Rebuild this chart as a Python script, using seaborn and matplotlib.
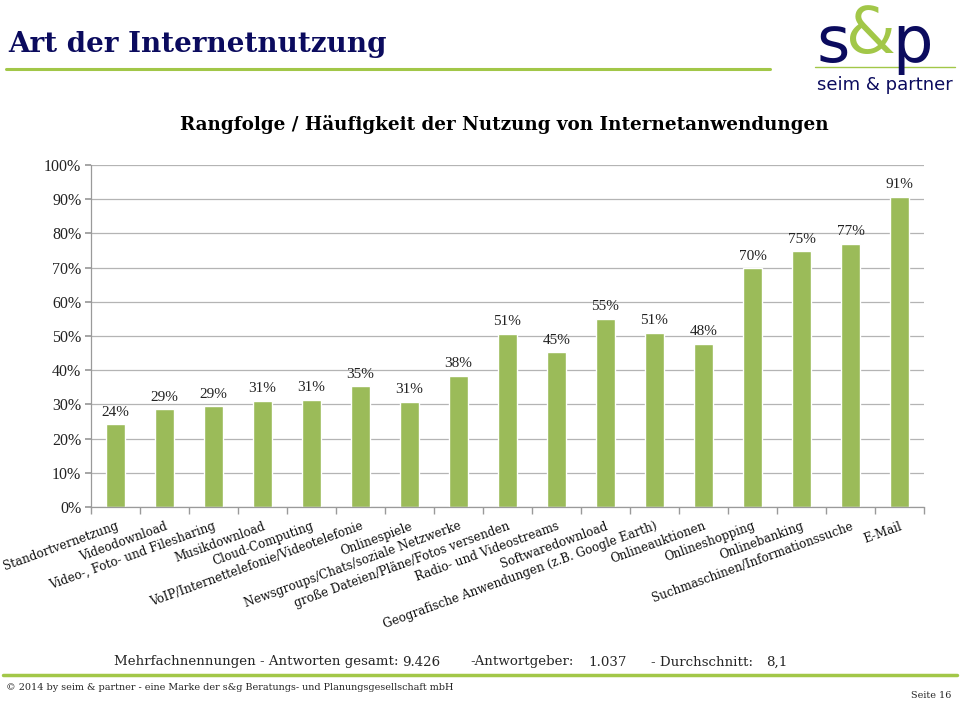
import matplotlib
matplotlib.use("Agg")
import matplotlib.pyplot as plt
import seaborn as sns
import pandas as pd
from matplotlib.lines import Line2D

categories = [
    "Standortvernetzung", "Videodownload", "Video-, Foto- und Filesharing",
    "Musikdownload", "Cloud-Computing", "VoIP/Internettelefonie/Videotelefonie",
    "Onlinespiele", "Newsgroups/Chats/soziale Netzwerke",
    "große Dateien/Pläne/Fotos versenden", "Radio- und Videostreams",
    "Softwaredownload", "Geografische Anwendungen (z.B. Google Earth)",
    "Onlineauktionen", "Onlineshopping", "Onlinebanking",
    "Suchmaschinen/Informationssuche", "E-Mail",
]
values = [24.2, 28.6, 29.4, 31.1, 31.3, 35.3, 30.7, 38.4, 50.6, 45.2,
          55.1, 51.0, 47.7, 69.8, 74.8, 77.0, 90.7]
value_labels = ["24%", "29%", "29%", "31%", "31%", "35%", "31%", "38%", "51%",
                "45%", "55%", "51%", "48%", "70%", "75%", "77%", "91%"]
y_ticks = [0, 10, 20, 30, 40, 50, 60, 70, 80, 90, 100]
y_tick_labels = ["0%", "10%", "20%", "30%", "40%", "50%", "60%", "70%",
                 "80%", "90%", "100%"]

GREEN = "#9BBB59"
NAVY = "#0B0B5E"
LINE_GREEN = "#A2C748"

sns.set_theme(style="white")
plt.rcParams["font.family"] = ["DejaVu Serif", "DejaVu Sans"]

fig = plt.figure(figsize=(9.6, 7.04), dpi=100)
W, H = 960, 704
ax = fig.add_axes([91 / W, 1 - 507 / H, (924 - 91) / W, (507 - 165) / H])

df = pd.DataFrame({"cat": categories, "val": values})
sns.barplot(data=df, x="cat", y="val", color=GREEN, saturation=1,
            width=0.39, ax=ax)

ax.set_xlim(-0.5, len(categories) - 0.5)
ax.set_ylim(0, 100)
ax.set_yticks(y_ticks)
ax.set_yticklabels(y_tick_labels, fontsize=11.5)
for lbl in ax.get_yticklabels():
    lbl.set_fontfamily("Liberation Serif")
    lbl.set_color("#222222")
ax.set_xlabel("")
ax.set_ylabel("")
ax.yaxis.grid(True, color="#B4B4B4", linewidth=0.9)
ax.set_axisbelow(True)
for s in ["top", "right"]:
    ax.spines[s].set_visible(False)
for s in ["left", "bottom"]:
    ax.spines[s].set_color("#9A9A9A")
    ax.spines[s].set_linewidth(0.9)
ax.tick_params(axis="y", left=True, length=4, color="#9A9A9A", pad=3)
ax.tick_params(axis="x", bottom=False, length=0)
ax.set_xticks([i - 0.5 for i in range(len(categories) + 1)], minor=True)
ax.tick_params(axis="x", which="minor", bottom=True, length=5, color="#9A9A9A")

ax.set_xticks(range(len(categories)))
ax.set_xticklabels(categories, rotation=20, ha="right", va="top",
                   rotation_mode="anchor", fontsize=8.6, fontfamily="DejaVu Serif")
for lbl in ax.get_xticklabels():
    lbl.set_color("#111111")
ax.tick_params(axis="x", which="major", pad=9)

ax.bar_label(ax.containers[0], labels=value_labels, padding=4,
             fontfamily="Liberation Serif", fontsize=11, color="#222222")

# Title + underline
fig.text(8 / W, 1 - 45 / H, "Art der Internetnutzung", fontsize=20,
         fontweight="bold", color=NAVY, va="center", ha="left",
         fontfamily="DejaVu Serif")
fig.add_artist(Line2D([6 / W, 770 / W], [1 - 69 / H, 1 - 69 / H],
                      color=LINE_GREEN, linewidth=2.2))

# Subtitle
fig.text(504 / W, 1 - 124 / H,
         "Rangfolge / Häufigkeit der Nutzung von Internetanwendungen",
         fontsize=13.2, fontweight="bold", color="black", ha="center",
         va="center", fontfamily="DejaVu Serif")

# Logo
fig.add_artist(Line2D([815 / W, 955 / W], [1 - 67 / H, 1 - 67 / H],
                      color=LINE_GREEN, linewidth=1.0))
fig.text(871 / W, 1 - 35 / H, "&", fontsize=46, color=LINE_GREEN,
         ha="center", va="center", fontfamily="DejaVu Sans")
fig.text(850 / W, 1 - 44 / H, "s", fontsize=46, color=NAVY, ha="right",
         va="center", fontfamily="DejaVu Sans")
fig.text(892 / W, 1 - 44 / H, "p", fontsize=46, color=NAVY, ha="left",
         va="center", fontfamily="DejaVu Sans")
fig.text(885 / W, 1 - 85 / H, "seim & partner", fontsize=13, color=NAVY,
         ha="center", va="center", fontfamily="DejaVu Sans")

# Footer
FOOT = ["DejaVu Serif", "DejaVu Sans"]
fy = 1 - 662 / H
fs = 9.6
fig.text(114 / W, fy, "Mehrfachnennungen - Antworten gesamt:", fontsize=fs,
         family=FOOT, ha="left", va="center")
fig.text(402 / W, fy, "9.426", fontsize=fs, family=FOOT, ha="left", va="center")
fig.text(470 / W, fy, "-Antwortgeber:", fontsize=fs, family=FOOT, ha="left",
         va="center")
fig.text(588 / W, fy, "1.037", fontsize=fs, family=FOOT, ha="left", va="center")
fig.text(651 / W, fy, "- Durchschnitt:", fontsize=fs, family=FOOT, ha="left",
         va="center")
fig.text(766 / W, fy, "8,1", fontsize=fs, family=FOOT, ha="left", va="center")
fig.add_artist(Line2D([3 / W, 957 / W], [1 - 675 / H, 1 - 675 / H],
                      color=LINE_GREEN, linewidth=2.5))
fig.text(6 / W, 1 - 688 / H,
         "© 2014 by seim & partner - eine Marke der s&g Beratungs- und Planungsgesellschaft mbH",
         fontsize=6.9, family=FOOT, ha="left", va="center")
fig.text(951 / W, 1 - 695 / H, "Seite 16", fontsize=6.9, family=FOOT,
         ha="right", va="center")

fig.savefig("out.png", dpi=100)
